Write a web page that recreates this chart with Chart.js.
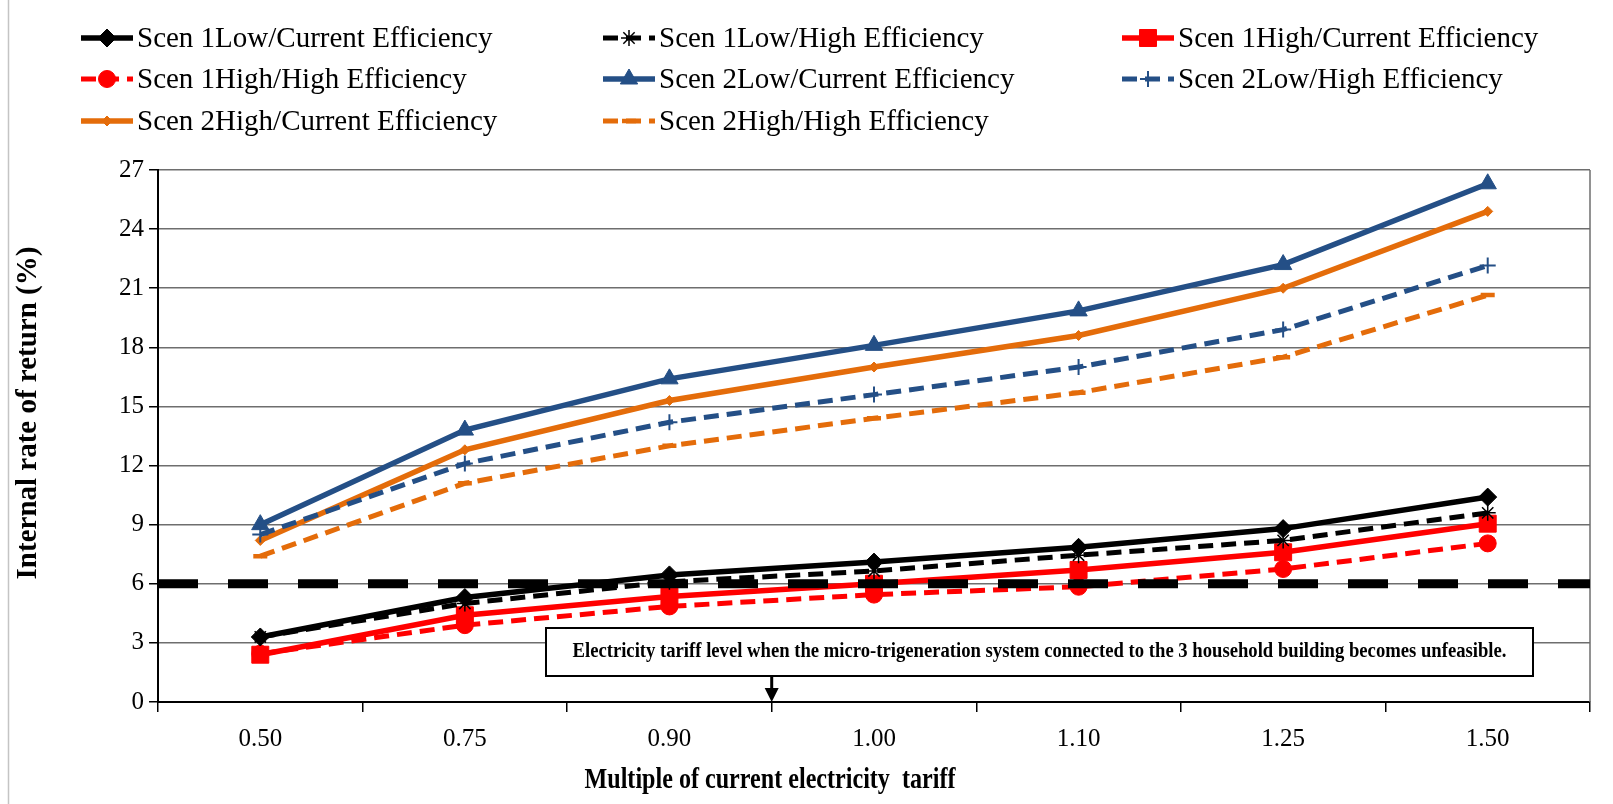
<!DOCTYPE html>
<html>
<head>
<meta charset="utf-8">
<script src="https://cdn.jsdelivr.net/npm/chart.js@4.4.0/dist/chart.umd.min.js"></script>
<style>
  html, body { margin: 0; padding: 0; background: #fff; }
  #wrap { width: 1613px; height: 804px; }
</style>
</head>
<body>
<div id="wrap"><canvas id="irr-chart" width="1613" height="804"></canvas></div>
<script>
// tariff multiples (x categories)
const tariffs = ['0.50', '0.75', '0.90', '1.00', '1.10', '1.25', '1.50'];

// internal rate of return (%)
const s1LowCurrent = [3.3, 5.3, 6.45, 7.1, 7.85, 8.8, 10.4];
const s1LowHigh = [3.3, 5.0, 6.1, 6.65, 7.45, 8.2, 9.6];
const s1HighCurrent = [2.4, 4.4, 5.35, 6.0, 6.7, 7.6, 9.05];
const s1HighHigh = [2.45, 3.9, 4.85, 5.45, 5.85, 6.75, 8.05];
const s2LowCurrent = [9.0, 13.8, 16.4, 18.1, 19.85, 22.2, 26.3];
const s2LowHigh = [8.5, 12.1, 14.2, 15.6, 17.0, 18.9, 22.15];
const s2HighCurrent = [8.2, 12.8, 15.3, 17.0, 18.6, 21.0, 24.9];
const s2HighHigh = [7.4, 11.1, 13.0, 14.4, 15.7, 17.5, 20.65];

const seriesNames = [
  'Scen 1Low/Current Efficiency', 'Scen 1Low/High Efficiency', 'Scen 1High/Current Efficiency',
  'Scen 1High/High Efficiency', 'Scen 2Low/Current Efficiency', 'Scen 2Low/High Efficiency',
  'Scen 2High/Current Efficiency', 'Scen 2High/High Efficiency'
];

// y axis range / step
const yMin = 0;
const yMax = 27;
const yStep = 3;

// hurdle rate line and note
const threshold = 6;
const noteText = 'Electricity tariff level when the micro-trigeneration system connected to the 3 household building becomes unfeasible.';
const xTitle = 'Multiple of current electricity  tariff';
const yTitle = 'Internal rate of return (%)';

const BLUE = '#244F86';
const ORANGE = '#E46C0A';
const RED = '#FF0000';
const dash = [15, 8];

function series(label, data, color, dashed, style, radius, pbw) {
  return {
    label: label,
    data: data,
    borderColor: color,
    backgroundColor: color,
    borderWidth: dashed ? 5 : 5.5,
    borderDash: dashed ? dash : [],
    pointStyle: style,
    pointRadius: radius,
    pointHoverRadius: radius,
    pointBackgroundColor: color,
    pointBorderColor: color,
    pointBorderWidth: pbw,
    tension: 0,
    fill: false
  };
}

const datasets = [
  series(seriesNames[0], s1LowCurrent, '#000', false, 'rectRot', 9, 1),
  series(seriesNames[1], s1LowHigh, '#000', true, 'star', 8, 1.5),
  series(seriesNames[2], s1HighCurrent, RED, false, 'rect', 12, 1),
  series(seriesNames[3], s1HighHigh, RED, true, 'circle', 8.5, 1),
  series(seriesNames[4], s2LowCurrent, BLUE, false, 'triangle', 10, 1),
  series(seriesNames[5], s2LowHigh, BLUE, true, 'cross', 8, 2),
  series(seriesNames[6], s2HighCurrent, ORANGE, false, 'rectRot', 5, 1),
  series(seriesNames[7], s2HighHigh, ORANGE, true, 'line', 7, 4.5)
];

// squeeze text into a given width (the original uses condensed type)
function fitText(ctx, text, cx, cy, font, width) {
  ctx.save();
  ctx.font = font;
  const w = ctx.measureText(text).width;
  ctx.translate(cx, cy);
  ctx.scale(width / w, 1);
  ctx.textAlign = 'center';
  ctx.textBaseline = 'middle';
  ctx.fillStyle = '#000';
  ctx.fillText(text, 0, 0);
  ctx.restore();
}

function drawMarker(ctx, ds, x, y) {
  ctx.fillStyle = ds.pointBackgroundColor;
  ctx.strokeStyle = ds.pointBorderColor;
  ctx.lineWidth = ds.pointBorderWidth;
  if (Chart.helpers && Chart.helpers.drawPoint) {
    Chart.helpers.drawPoint(ctx, {
      pointStyle: ds.pointStyle, radius: ds.pointRadius, rotation: 0, borderWidth: ds.pointBorderWidth
    }, x, y);
  } else {
    ctx.beginPath(); ctx.arc(x, y, 6, 0, Math.PI * 2); ctx.fill();
  }
}

const paperDecor = {
  id: 'paperDecor',
  beforeDraw(chart) {
    const ctx = chart.ctx;
    ctx.save();
    ctx.fillStyle = '#fff';
    ctx.fillRect(0, 0, chart.width, chart.height);
    // faint outer frame on the left
    ctx.strokeStyle = '#c4c4c4';
    ctx.lineWidth = 1.5;
    ctx.beginPath(); ctx.moveTo(8.5, 0); ctx.lineTo(8.5, chart.height); ctx.stroke();
    ctx.restore();
  },
  afterDatasetsDraw(chart) {
    const ctx = chart.ctx;
    const a = chart.chartArea;
    const y = chart.scales.y.getPixelForValue(threshold);
    ctx.save();
    // right border of plot
    ctx.strokeStyle = '#6e6e6e';
    ctx.lineWidth = 1.5;
    ctx.beginPath(); ctx.moveTo(a.right, a.top); ctx.lineTo(a.right, a.bottom); ctx.stroke();
    // 6% line
    ctx.strokeStyle = '#000';
    ctx.lineWidth = 9;
    ctx.lineCap = 'butt';
    ctx.setLineDash([40, 30]);
    ctx.beginPath(); ctx.moveTo(a.left, y); ctx.lineTo(a.right, y); ctx.stroke();
    ctx.restore();
  },
  afterDraw(chart) {
    const ctx = chart.ctx;
    const a = chart.chartArea;
    const ds = chart.data.datasets;

    // legend, 3 columns
    const cols = [81, 603, 1122];
    const rows = [38, 79, 121];
    ds.forEach((d, i) => {
      const x = cols[i % 3];
      const y = rows[Math.floor(i / 3)];
      ctx.save();
      ctx.strokeStyle = d.borderColor;
      ctx.lineWidth = d.borderWidth;
      ctx.setLineDash(d.borderDash);
      ctx.beginPath(); ctx.moveTo(x, y); ctx.lineTo(x + 52, y); ctx.stroke();
      ctx.setLineDash([]);
      drawMarker(ctx, d, x + 26, y);
      ctx.fillStyle = '#000';
      ctx.font = '29px "Liberation Serif"';
      ctx.textBaseline = 'middle';
      ctx.fillText(d.label, x + 56, y + 1);
      ctx.restore();
    });

    // axis titles
    ctx.save();
    ctx.translate(29, 413);
    ctx.rotate(-Math.PI / 2);
    ctx.font = 'bold 29px "Liberation Serif"';
    ctx.textAlign = 'center';
    ctx.textBaseline = 'middle';
    ctx.fillStyle = '#000';
    ctx.fillText(yTitle, 0, 0);
    ctx.restore();
    fitText(ctx, xTitle, 770, 781, 'bold 29px "Liberation Serif"', 371);

    // note box
    const bx = 546, by = 628, bw = 987, bh = 48;
    ctx.save();
    ctx.fillStyle = '#fff';
    ctx.fillRect(bx, by, bw, bh);
    ctx.strokeStyle = '#000';
    ctx.lineWidth = 2;
    ctx.strokeRect(bx, by, bw, bh);
    ctx.restore();
    fitText(ctx, noteText, bx + bw / 2, by + bh / 2, 'bold 20px "Liberation Serif"', 934);

    // arrow down to the tariff level between 0.90 and 1.00
    const xs = chart.scales.x;
    const ax = (xs.getPixelForValue(2) + xs.getPixelForValue(3)) / 2;
    ctx.save();
    ctx.strokeStyle = '#000';
    ctx.fillStyle = '#000';
    ctx.lineWidth = 3;
    ctx.beginPath(); ctx.moveTo(ax, by + bh); ctx.lineTo(ax, a.bottom - 12); ctx.stroke();
    ctx.beginPath();
    ctx.moveTo(ax - 7, a.bottom - 14);
    ctx.lineTo(ax + 7, a.bottom - 14);
    ctx.lineTo(ax, a.bottom);
    ctx.closePath();
    ctx.fill();
    ctx.restore();
  }
};

const ctx = document.getElementById('irr-chart');

const chart = new Chart(ctx, {
  type: 'line',
  data: {
    labels: tariffs,
    datasets: datasets
  },
  plugins: [paperDecor],
  options: {
    responsive: false,
    animation: false,
    layout: {
      padding: { top: 170, right: 23, left: 0, bottom: 0 }
    },
    plugins: {
      legend: { display: false },
      tooltip: { enabled: false }
    },
    scales: {
      x: {
        type: 'category',
        offset: true,
        afterFit: s => { s.height = 102; },
        grid: {
          offset: true,
          drawOnChartArea: false,
          color: '#000',
          lineWidth: 1.5,
          tickLength: 10
        },
        border: { display: true, color: '#000', width: 2 },
        ticks: {
          color: '#000',
          padding: 12,
          autoSkip: false,
          maxRotation: 0,
          font: { family: 'Liberation Serif', size: 25 }
        }
      },
      y: {
        min: yMin,
        max: yMax,
        afterFit: s => { s.width = 158; },
        grid: {
          color: '#6e6e6e',
          lineWidth: 1.5,
          tickColor: '#000',
          tickLength: 9
        },
        border: { display: true, color: '#000', width: 2 },
        ticks: {
          stepSize: yStep,
          color: '#000',
          padding: 5,
          font: { family: 'Liberation Serif', size: 25 }
        }
      }
    }
  }
});
</script>
</body>
</html>
